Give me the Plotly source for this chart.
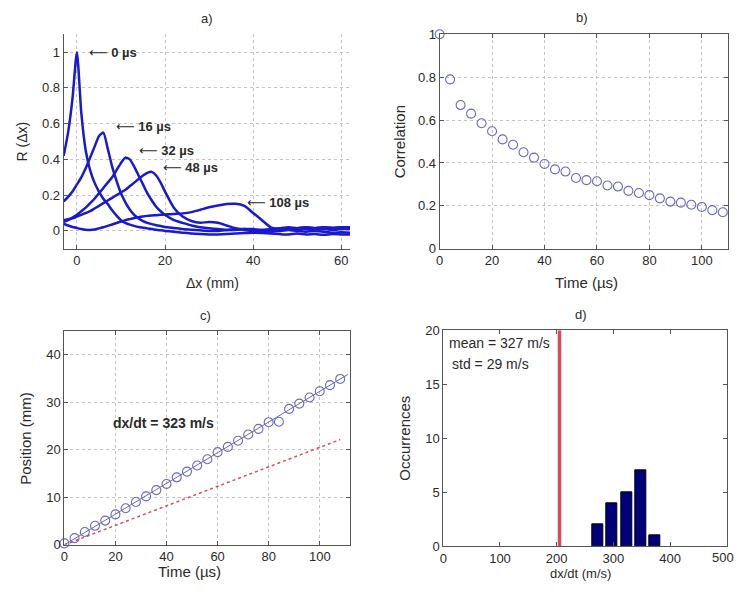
import plotly.graph_objects as go

# ---------------- Panel a: spatial correlation curves ----------------
dx_mm = [-3, -2, -1, 0, 1, 2, 3, 4, 5, 6, 7, 8, 9, 10, 11, 12, 13, 14, 15, 16, 17, 18, 19, 20,
         22, 24, 26, 28, 30, 32, 34, 36, 38, 40, 42, 44, 46, 48, 50, 52, 54, 56, 58, 60, 62]
R_0us = [0.42, 0.55, 0.74, 1.0, 0.66, 0.45, 0.34, 0.27, 0.22, 0.18, 0.15, 0.115, 0.085, 0.06, 0.045,
         0.035, 0.028, 0.022, 0.018, 0.014, 0.01, 0.006, 0.003, 0.0,
         -0.005, -0.01, -0.015, -0.018, -0.02, -0.02, -0.018, -0.015, -0.012, -0.01, -0.012, -0.015,
         -0.018, -0.02, -0.015, -0.02, -0.018, -0.022, -0.018, -0.02, -0.02]
R_16us = [0.165, 0.19, 0.22, 0.26, 0.3, 0.35, 0.41, 0.47, 0.53, 0.55, 0.46, 0.36, 0.28, 0.21, 0.16,
          0.12, 0.09, 0.07, 0.055, 0.045, 0.038, 0.032, 0.027, 0.022,
          0.016, 0.01, 0.006, 0.003, 0.0, 0.0, 0.005, 0.01, 0.01, 0.005, 0.0, -0.005,
          0.0, 0.005, 0.0, -0.005, 0.0, -0.005, -0.01, -0.008, -0.01]
R_32us = [0.05, 0.06, 0.075, 0.09, 0.11, 0.13, 0.155, 0.18, 0.21, 0.24, 0.27, 0.3, 0.34, 0.38, 0.41,
          0.4, 0.36, 0.31, 0.26, 0.21, 0.17, 0.135, 0.11, 0.09,
          0.06, 0.045, 0.03, 0.02, 0.015, 0.01, 0.005, 0.005, 0.01, 0.01, 0.005, 0.0,
          0.005, 0.01, 0.005, 0.01, 0.005, 0.01, 0.005, 0.01, 0.01]
R_48us = [0.06, 0.065, 0.07, 0.08, 0.09, 0.1, 0.11, 0.125, 0.14, 0.155, 0.17, 0.185, 0.2, 0.215, 0.23,
          0.25, 0.27, 0.29, 0.31, 0.325, 0.33, 0.31, 0.27, 0.22,
          0.13, 0.08, 0.055, 0.045, 0.05, 0.045, 0.03, 0.015, 0.005, 0.0, 0.005, 0.01,
          0.015, 0.02, 0.015, 0.02, 0.015, 0.02, 0.018, 0.02, 0.02]
R_108us = [0.04, 0.03, 0.022, 0.016, 0.01, 0.006, 0.005, 0.008, 0.014, 0.02, 0.028, 0.036, 0.044, 0.052,
           0.06, 0.066, 0.072, 0.077, 0.081, 0.084, 0.086, 0.088, 0.09, 0.092,
           0.095, 0.098, 0.105, 0.118, 0.132, 0.142, 0.15, 0.152, 0.14, 0.1, 0.06, 0.02,
           0.01, 0.01, 0.015, 0.02, 0.015, 0.02, 0.015, 0.02, 0.02]
curve_labels = ["0 µs", "16 µs", "32 µs", "48 µs", "108 µs"]
label_x = [2.4, 8.5, 13.7, 19.0, 38.2]
label_y = [1.0, 0.585, 0.45, 0.355, 0.16]

# ---------------- Panel b: peak correlation vs time ----------------
time_b = [0, 4, 8, 12, 16, 20, 24, 28, 32, 36, 40, 44, 48, 52, 56, 60, 64, 68, 72, 76, 80,
          84, 88, 92, 96, 100, 104, 108]
corr_b = [1.0, 0.79, 0.67, 0.63, 0.585, 0.548, 0.51, 0.485, 0.45, 0.425, 0.395, 0.37, 0.36, 0.33,
          0.32, 0.315, 0.295, 0.29, 0.27, 0.26, 0.25, 0.235, 0.22, 0.215, 0.205, 0.195, 0.18, 0.17]

# ---------------- Panel c: peak position vs time ----------------
time_c = [0, 4, 8, 12, 16, 20, 24, 28, 32, 36, 40, 44, 48, 52, 56, 60, 64, 68, 72, 76, 80,
          84, 88, 92, 96, 100, 104, 108]
pos_c = [0.3, 1.4, 2.7, 4.0, 5.1, 6.4, 7.7, 9.0, 10.2, 11.5, 12.8, 14.2, 15.4, 16.7, 18.0, 19.5,
         20.6, 21.9, 23.2, 24.4, 25.8, 25.9, 28.6, 29.7, 31.0, 32.3, 33.6, 34.9]
fit_speed = 323      # m/s
ref_speed = 205      # m/s
fit_t = [0, 111]
ref_t = [0, 108]

# ---------------- Panel d: histogram of dx/dt ----------------
bin_centers = [273, 298, 323, 348, 373]
counts = [2, 4, 5, 7, 1]
mean_speed = 327
std_speed = 29
hist_ticks = [0, 100, 200, 300, 400, 500]

W, H = 737, 596
def px_x(a, b):
    return [a / W, b / W]
def px_y(top, bottom):
    return [1 - bottom / H, 1 - top / H]

blue = "rgb(25,25,205)"
circ = "rgb(105,105,190)"
red = "rgb(215,75,90)"
axcol = "#555555"
gridcol = "#c4c4c4"
FONT = "Liberation Sans, Arial, sans-serif"
TXT = "#2a2a2a"

fig = go.Figure()

for ys in [R_0us, R_16us, R_32us, R_48us, R_108us]:
    fig.add_trace(go.Scatter(x=dx_mm, y=ys, mode="lines", xaxis="x", yaxis="y",
                             line=dict(color=blue, width=2.5, shape="spline", smoothing=0.6),
                             showlegend=False))

fig.add_trace(go.Scatter(x=time_b, y=corr_b, mode="markers", xaxis="x2", yaxis="y2",
                         marker=dict(symbol="circle-open", size=9, color=circ, line=dict(width=1.1)),
                         showlegend=False, cliponaxis=False))

fig.add_trace(go.Scatter(x=ref_t, y=[ref_speed * t / 1000 for t in ref_t], mode="lines",
                         xaxis="x3", yaxis="y3", line=dict(color=red, width=1.5, dash="dot"),
                         showlegend=False))
fig.add_trace(go.Scatter(x=fit_t, y=[fit_speed * t / 1000 for t in fit_t], mode="lines",
                         xaxis="x3", yaxis="y3", line=dict(color=circ, width=1),
                         showlegend=False))
fig.add_trace(go.Scatter(x=time_c, y=pos_c, mode="markers", xaxis="x3", yaxis="y3",
                         marker=dict(symbol="circle-open", size=9, color=circ, line=dict(width=1.1)),
                         showlegend=False, cliponaxis=False))

fig.add_trace(go.Bar(x=bin_centers, y=counts, width=19.5, xaxis="x4", yaxis="y4",
                     marker=dict(color="#00007a", line=dict(color="black", width=1)),
                     showlegend=False))
fig.add_trace(go.Scatter(x=[ref_speed, ref_speed], y=[0, 20], mode="lines", xaxis="x4", yaxis="y4",
                         line=dict(color=red, width=3.5), showlegend=False))

tickfont = dict(family=FONT, size=13, color=TXT)
common = dict(showline=True, linecolor=axcol, linewidth=1, ticks="inside", ticklen=4,
              tickcolor=axcol, tickfont=tickfont, zeroline=False,
              gridcolor=gridcol, griddash="dot", gridwidth=1)

fig.update_layout(
    width=W, height=H, margin=dict(l=0, r=0, t=0, b=0),
    paper_bgcolor="white", plot_bgcolor="white", bargap=0,
    font=dict(family=FONT, color=TXT),
    xaxis=dict(domain=px_x(60, 348), anchor="y", range=[-3, 62], tickvals=[0, 20, 40, 60],
               showgrid=True, mirror=False, **common),
    yaxis=dict(domain=px_y(28, 248), anchor="x", range=[-0.1, 1.1],
               tickvals=[0, 0.2, 0.4, 0.6, 0.8, 1], ticktext=["0", "0.2", "0.4", "0.6", "0.8", "1"],
               showgrid=True, mirror=False, **common),
    xaxis2=dict(domain=px_x(438, 728), anchor="y2", range=[0, 110], tickvals=[0, 20, 40, 60, 80, 100],
                showgrid=True, mirror="ticks", **common),
    yaxis2=dict(domain=px_y(28, 248), anchor="x2", range=[0, 1],
                tickvals=[0, 0.2, 0.4, 0.6, 0.8, 1], ticktext=["0", "0.2", "0.4", "0.6", "0.8", "1"],
                showgrid=True, mirror="ticks", **common),
    xaxis3=dict(domain=px_x(60.7, 348.3), anchor="y3", range=[0, 112], tickvals=[0, 20, 40, 60, 80, 100],
                showgrid=True, mirror="ticks", **common),
    yaxis3=dict(domain=px_y(332.3, 551.7), anchor="x3", range=[0, 45], tickvals=[0, 10, 20, 30, 40],
                showgrid=True, mirror="ticks", **common),
    xaxis4=dict(domain=px_x(441.7, 726.7), anchor="y4", range=[0, 500],
                tickvals=hist_ticks, ticktext=[str(v) for v in hist_ticks[:-1]] + [""],
                showgrid=False, mirror="ticks", **common),
    yaxis4=dict(domain=px_y(331.7, 553.3), anchor="x4", range=[0, 20], tickvals=[0, 5, 10, 15, 20],
                showgrid=False, mirror="ticks", **common),
)

ann = []
def text(x, y, s, size=14, xanchor="center", yanchor="middle", angle=0):
    ann.append(dict(x=x, y=y, xref="paper", yref="paper", text=s,
                    showarrow=False, xanchor=xanchor, yanchor=yanchor, textangle=angle,
                    font=dict(family=FONT, size=size, color=TXT)))

# panel titles
text(204 / W, 1 - 12 / H, "a)", 13)
text(581 / W, 1 - 11 / H, "b)", 13)
text(203 / W, 1 - 316 / H, "c)", 13)
text(580 / W, 1 - 315 / H, "d)", 13)
# axis titles
text(210 / W, 1 - 283 / H, "Δx (mm)", 14)
text(18 / W, 1 - 138 / H, "R (Δx)", 14, angle=-90)
text(586 / W, 1 - 283 / H, "Time (µs)", 15)
text(398 / W, 1 - 138 / H, "Correlation", 15, angle=-90)
text(187 / W, 1 - 579 / H, "Time (µs)", 15)
text(22 / W, 1 - 442 / H, "Position (mm)", 15, angle=-90)
text(580 / W, 1 - 581 / H, "dx/dt (m/s)", 13)
text(403 / W, 1 - 442 / H, "Occurrences", 15, angle=-90)
# last hist tick label, pushed against the page edge as in the reference
text(736 / W, 1 - 565 / H, str(hist_ticks[-1]), 13, xanchor="right")

for lx, ly, lab in zip(label_x, label_y, curve_labels):
    ann.append(dict(x=lx, y=ly, xref="x", yref="y",
                    text="<span style='font-family:DejaVu Sans'>⟵</span><b> %s</b>" % lab,
                    showarrow=False, xanchor="left", yanchor="middle",
                    font=dict(family=FONT, size=13, color=TXT)))

ann.append(dict(x=38.8, y=25.7, xref="x3", yref="y3", text="<b>dx/dt = %d m/s</b>" % fit_speed,
                showarrow=False, xanchor="center", yanchor="middle",
                font=dict(family=FONT, size=14, color=TXT)))
ann.append(dict(x=445 / W, y=1 - 345 / H, xref="paper", yref="paper",
                text="mean = %d m/s" % mean_speed, showarrow=False, xanchor="left", yanchor="middle",
                font=dict(family=FONT, size=14, color=TXT)))
ann.append(dict(x=448 / W, y=1 - 366 / H, xref="paper", yref="paper",
                text="std = %d m/s" % std_speed, showarrow=False, xanchor="left", yanchor="middle",
                font=dict(family=FONT, size=14, color=TXT)))

fig.update_layout(annotations=ann)
fig.write_html("out.html", config={"displayModeBar": False},
               post_script="document.body.style.margin='0';document.body.style.overflow='hidden';")
